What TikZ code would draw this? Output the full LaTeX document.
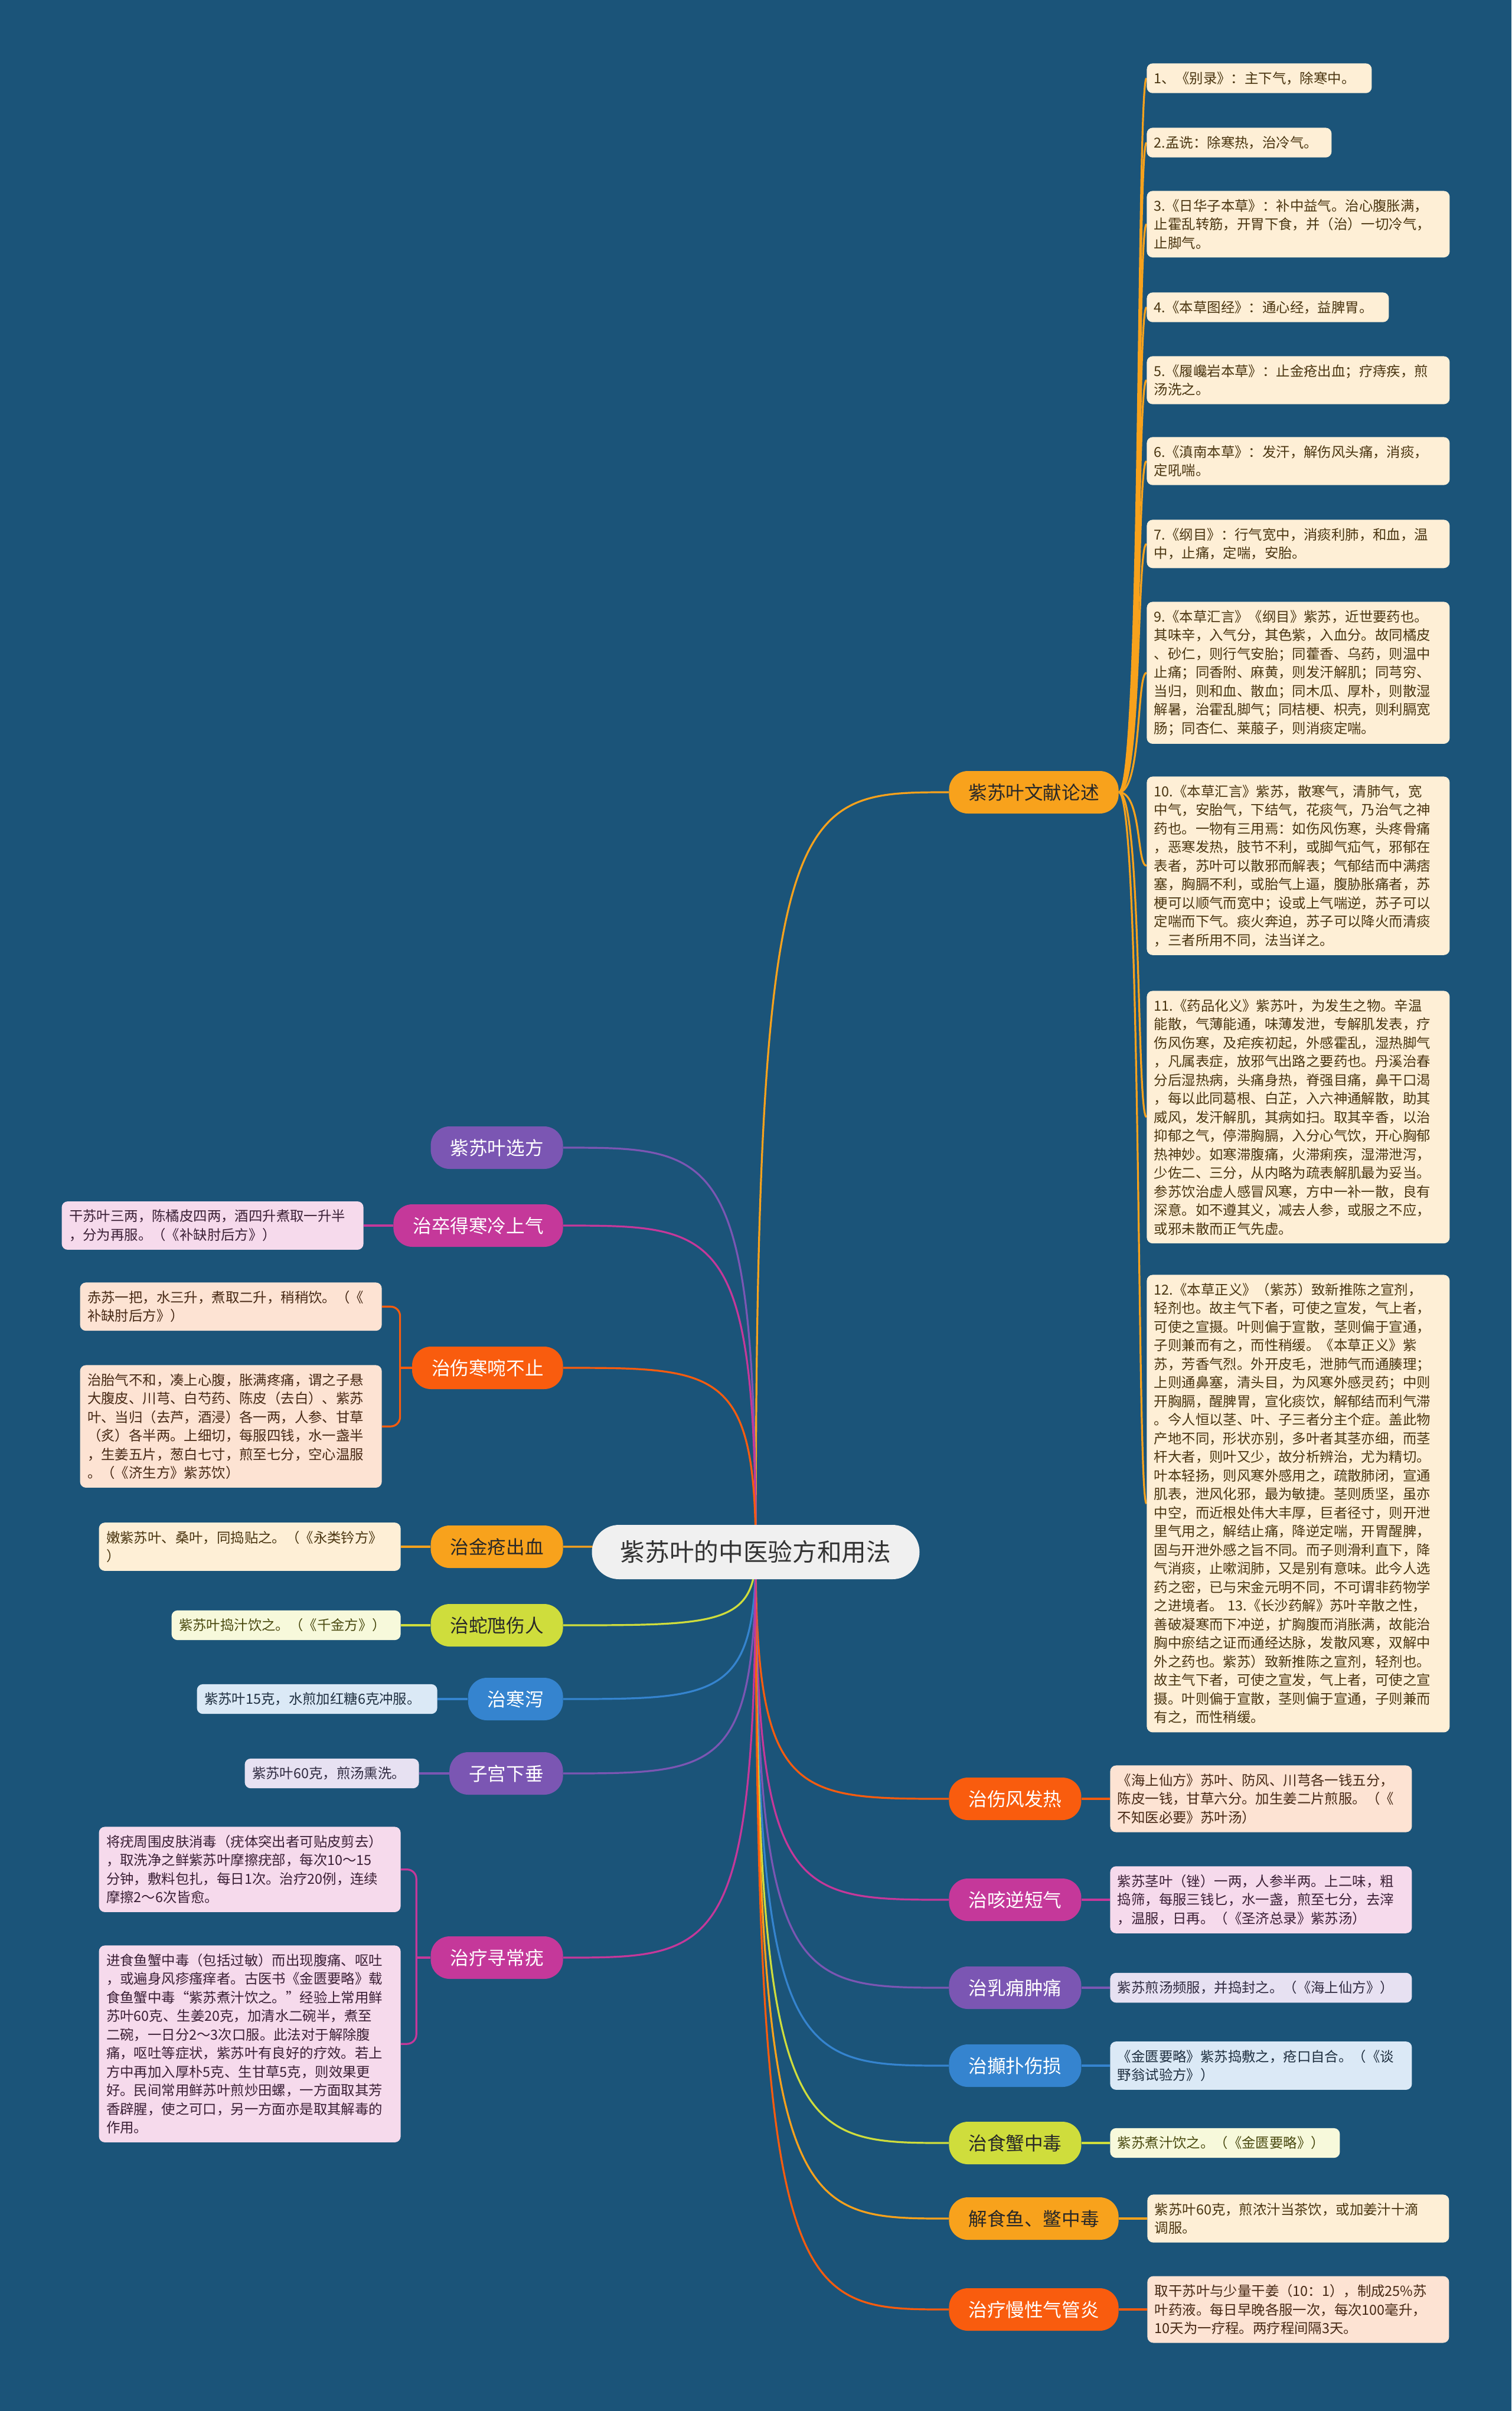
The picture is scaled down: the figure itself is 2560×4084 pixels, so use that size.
\documentclass[tikz,border=0pt]{standalone}
\usepackage{fontspec}
\newfontfamily\cjk{Noto Sans CJK SC}
\usetikzlibrary{calc}
\pgfdeclarelayer{bglayer}
\pgfdeclarelayer{linelayer}
\pgfsetlayers{bglayer,linelayer,main}
\definecolor{bgc}{RGB}{27,84,121}
\definecolor{cOr}{RGB}{248,162,28}
\definecolor{cRe}{RGB}{249,92,14}
\definecolor{cMa}{RGB}{197,56,154}
\definecolor{cPu}{RGB}{123,86,179}
\definecolor{cBl}{RGB}{53,132,207}
\definecolor{cYg}{RGB}{207,221,60}
\definecolor{lOr}{RGB}{254,239,214}
\definecolor{lRe}{RGB}{253,227,211}
\definecolor{lMa}{RGB}{246,218,236}
\definecolor{lPu}{RGB}{231,225,242}
\definecolor{lBl}{RGB}{219,233,246}
\definecolor{lYg}{RGB}{247,249,219}
\definecolor{tOr}{RGB}{74,53,16}
\definecolor{tRe}{RGB}{70,40,20}
\definecolor{tMa}{RGB}{58,31,53}
\definecolor{tPu}{RGB}{47,42,64}
\definecolor{tBl}{RGB}{31,47,64}
\definecolor{tYg}{RGB}{74,74,16}
\definecolor{darkTxt}{RGB}{40,40,40}
\definecolor{cenFill}{RGB}{240,240,240}
\definecolor{cenTxt}{RGB}{51,51,51}
\tikzset{
  mainnode/.style={rounded corners=16pt, minimum height=36pt, inner xsep=16.5pt, inner ysep=0pt,
    font=\cjk\fontsize{15.8pt}{18pt}\selectfont},
  centernode/.style={fill=cenFill, text=cenTxt, rounded corners=23pt, minimum height=46pt,
    minimum width=277.5pt, font=\cjk\fontsize{20.85pt}{24pt}\selectfont},
  leafbox/.style={rounded corners=5pt, inner xsep=6.25pt, inner ysep=7pt, align=left,
    font=\cjk\fontsize{11.7pt}{15.75pt}\selectfont},
  mO/.style={fill=cOr, text=darkTxt},
  mR/.style={fill=cRe, text=white},
  mM/.style={fill=cMa, text=white},
  mP/.style={fill=cPu, text=white},
  mB/.style={fill=cBl, text=white},
  mY/.style={fill=cYg, text=darkTxt},
  fO/.style={fill=lOr, text=tOr},
  fR/.style={fill=lRe, text=tRe},
  fM/.style={fill=lMa, text=tMa},
  fP/.style={fill=lPu, text=tPu},
  fB/.style={fill=lBl, text=tBl},
  fY/.style={fill=lYg, text=tYg},
  lnk/.style={line width=1.6pt},
}
\newcommand{\mmlink}[2]{%
  \path (C.center |- #2) coordinate (tmpk);
  \draw[lnk,#1] (C.center) .. controls (tmpk) and ($(tmpk)!0.2!(#2)$) .. (#2);}
\begin{document}
\begin{tikzpicture}[x=0.5pt,y=-0.5pt]
\begin{pgfonlayer}{bglayer}
\fill[bgc] (0,0) rectangle (2560,4084);
\end{pgfonlayer}
\useasboundingbox (0,0) rectangle (2560,4084);

% ---------- centre ----------
\node[centernode] (C) at (1280,2629) {紫苏叶的中医验方和用法};

% ---------- right main nodes ----------
\node[mainnode,mO,anchor=west] (W) at (1607,1342) {紫苏叶文献论述};
\node[mainnode,mR,anchor=west] (A) at (1607,3047) {治伤风发热};
\node[mainnode,mM,anchor=west] (B) at (1607,3218) {治咳逆短气};
\node[mainnode,mP,anchor=west] (Cc) at (1607,3367) {治乳痈肿痛};
\node[mainnode,mB,anchor=west] (D) at (1607,3499) {治攧扑伤损};
\node[mainnode,mY,anchor=west] (E) at (1607,3630) {治食蟹中毒};
\node[mainnode,mO,anchor=west] (F) at (1607,3758) {解食鱼、鳖中毒};
\node[mainnode,mR,anchor=west] (G) at (1607,3912) {治疗慢性气管炎};

% ---------- left main nodes ----------
\node[mainnode,mP,anchor=east] (L1) at (954,1944) {紫苏叶选方};
\node[mainnode,mM,anchor=east] (L2) at (954,2076) {治卒得寒冷上气};
\node[mainnode,mR,anchor=east] (L3) at (954,2317) {治伤寒啘不止};
\node[mainnode,mO,anchor=east] (L4) at (954,2620) {治金疮出血};
\node[mainnode,mY,anchor=east] (L5) at (954,2753) {治蛇虺伤人};
\node[mainnode,mB,anchor=east] (L6) at (954,2878) {治寒泻};
\node[mainnode,mP,anchor=east] (L7) at (954,3004) {子宫下垂};
\node[mainnode,mM,anchor=east] (L8) at (954,3316) {治疗寻常疣};

% ---------- right top leaves ----------
\node[leafbox,fO,anchor=north west,text width=178pt] (r1) at (1942,107) {1、《别录》：主下气，除寒中。};
\node[leafbox,fO,anchor=north west,text width=144pt] (r2) at (1942,216) {2.孟诜：除寒热，治冷气。};
\node[leafbox,fO,anchor=north west,text width=244pt] (r3) at (1942,323) {3.《日华子本草》：补中益气。治心腹胀满，\\止霍乱转筋，开胃下食，并（治）一切冷气，\\止脚气。};
\node[leafbox,fO,anchor=north west,text width=192.5pt] (r4) at (1942,495) {4.《本草图经》：通心经，益脾胃。};
\node[leafbox,fO,anchor=north west,text width=244pt] (r5) at (1942,603) {5.《履巉岩本草》：止金疮出血；疗痔疾，煎\\汤洗之。};
\node[leafbox,fO,anchor=north west,text width=244pt] (r6) at (1942,740) {6.《滇南本草》：发汗，解伤风头痛，消痰，\\定吼喘。};
\node[leafbox,fO,anchor=north west,text width=244pt] (r7) at (1942,880) {7.《纲目》：行气宽中，消痰利肺，和血，温\\中，止痛，定喘，安胎。};
\node[leafbox,fO,anchor=north west,text width=244pt] (r9) at (1942,1019) {9.《本草汇言》《纲目》紫苏，近世要药也。\\其味辛，入气分，其色紫，入血分。故同橘皮\\、砂仁，则行气安胎；同藿香、乌药，则温中\\止痛；同香附、麻黄，则发汗解肌；同芎穷、\\当归，则和血、散血；同木瓜、厚朴，则散湿\\解暑，治霍乱脚气；同桔梗、枳壳，则利膈宽\\肠；同杏仁、莱菔子，则消痰定喘。};
\node[leafbox,fO,anchor=north west,text width=244pt] (r10) at (1942,1315) {10.《本草汇言》紫苏，散寒气，清肺气，宽\\中气，安胎气，下结气，花痰气，乃治气之神\\药也。一物有三用焉：如伤风伤寒，头疼骨痛\\，恶寒发热，肢节不利，或脚气疝气，邪郁在\\表者，苏叶可以散邪而解表；气郁结而中满痞\\塞，胸膈不利，或胎气上逼，腹胁胀痛者，苏\\梗可以顺气而宽中；设或上气喘逆，苏子可以\\定喘而下气。痰火奔迫，苏子可以降火而清痰\\，三者所用不同，法当详之。};
\node[leafbox,fO,anchor=north west,text width=244pt] (r11) at (1942,1678) {11.《药品化义》紫苏叶，为发生之物。辛温\\能散，气薄能通，味薄发泄，专解肌发表，疗\\伤风伤寒，及疟疾初起，外感霍乱，湿热脚气\\，凡属表症，放邪气出路之要药也。丹溪治春\\分后湿热病，头痛身热，脊强目痛，鼻干口渴\\，每以此同葛根、白芷，入六神通解散，助其\\威风，发汗解肌，其病如扫。取其辛香，以治\\抑郁之气，停滞胸膈，入分心气饮，开心胸郁\\热神妙。如寒滞腹痛，火滞痢疾，湿滞泄泻，\\少佐二、三分，从内略为疏表解肌最为妥当。\\参苏饮治虚人感冒风寒，方中一补一散，良有\\深意。如不遵其义，减去人参，或服之不应，\\或邪未散而正气先虚。};
\node[leafbox,fO,anchor=north west,text width=244pt] (r12) at (1942,2159) {12.《本草正义》（紫苏）致新推陈之宣剂，\\轻剂也。故主气下者，可使之宣发，气上者，\\可使之宣摄。叶则偏于宣散，茎则偏于宣通，\\子则兼而有之，而性稍缓。《本草正义》紫\\苏，芳香气烈。外开皮毛，泄肺气而通腠理；\\上则通鼻塞，清头目，为风寒外感灵药；中则\\开胸膈，醒脾胃，宣化痰饮，解郁结而利气滞\\。今人恒以茎、叶、子三者分主个症。盖此物\\产地不同，形状亦别，多叶者其茎亦细，而茎\\杆大者，则叶又少，故分析辨治，尤为精切。\\叶本轻扬，则风寒外感用之，疏散肺闭，宣通\\肌表，泄风化邪，最为敏捷。茎则质坚，虽亦\\中空，而近根处伟大丰厚，巨者径寸，则开泄\\里气用之，解结止痛，降逆定喘，开胃醒脾，\\固与开泄外感之旨不同。而子则滑利直下，降\\气消痰，止嗽润肺，又是别有意味。此今人选\\药之密，已与宋金元明不同，不可谓非药物学\\之进境者。 13.《长沙药解》苏叶辛散之性，\\善破凝寒而下冲逆，扩胸腹而消胀满，故能治\\胸中瘀结之证而通经达脉，发散风寒，双解中\\外之药也。紫苏）致新推陈之宣剂，轻剂也。\\故主气下者，可使之宣发，气上者，可使之宣\\摄。叶则偏于宣散，茎则偏于宣通，子则兼而\\有之，而性稍缓。};

% ---------- right lower leaves ----------
\node[leafbox,fR,anchor=west,text width=243pt] (Al) at (1880,3047) {《海上仙方》苏叶、防风、川芎各一钱五分，\\陈皮一钱，甘草六分。加生姜二片煎服。（《\\不知医必要》苏叶汤）};
\node[leafbox,fM,anchor=west,text width=243pt] (Bl) at (1880,3218) {紫苏茎叶（锉）一两，人参半两。上二味，粗\\捣筛，每服三钱匕，水一盏，煎至七分，去滓\\，温服，日再。（《圣济总录》紫苏汤）};
\node[leafbox,fP,anchor=west,text width=243pt] (Cl) at (1880,3367) {紫苏煎汤频服，并捣封之。（《海上仙方》）};
\node[leafbox,fB,anchor=west,text width=243pt] (Dl) at (1880,3499) {《金匮要略》紫苏捣敷之，疮口自合。（《谈\\野翁试验方》）};
\node[leafbox,fY,anchor=west,text width=182pt] (El) at (1880,3630) {紫苏煮汁饮之。（《金匮要略》）};
\node[leafbox,fO,anchor=west,text width=243pt] (Fl) at (1943,3758) {紫苏叶60克，煎浓汁当茶饮，或加姜汁十滴\\调服。};
\node[leafbox,fR,anchor=west,text width=243pt] (Gl) at (1943,3912) {取干苏叶与少量干姜（10：1），制成25\%苏\\叶药液。每日早晚各服一次，每次100毫升，\\10天为一疗程。两疗程间隔3天。};

% ---------- left leaves ----------
\node[leafbox,fM,anchor=east,text width=243pt] (L2l) at (616,2076) {干苏叶三两，陈橘皮四两，酒四升煮取一升半\\，分为再服。（《补缺肘后方》）};
\node[leafbox,fR,anchor=north east,text width=243pt] (L3a) at (647,2172) {赤苏一把，水三升，煮取二升，稍稍饮。（《\\补缺肘后方》）};
\node[leafbox,fR,anchor=north east,text width=243pt] (L3b) at (647,2312) {治胎气不和，凑上心腹，胀满疼痛，谓之子悬\\大腹皮、川芎、白芍药、陈皮（去白）、紫苏\\叶、当归（去芦，酒浸）各一两，人参、甘草\\（炙）各半两。上细切，每服四钱，水一盏半\\，生姜五片，葱白七寸，煎至七分，空心温服\\。（《济生方》紫苏饮）};
\node[leafbox,fO,anchor=east,text width=243pt] (L4l) at (679,2620) {嫩紫苏叶、桑叶，同捣贴之。（《永类钤方》\\）};
\node[leafbox,fY,anchor=east,text width=181.5pt] (L5l) at (679,2753) {紫苏叶捣汁饮之。（《千金方》）};
\node[leafbox,fB,anchor=east,text width=191pt] (L6l) at (741,2878) {紫苏叶15克，水煎加红糖6克冲服。};
\node[leafbox,fP,anchor=east,text width=135pt] (L7l) at (710,3004) {紫苏叶60克，煎汤熏洗。};
\node[leafbox,fM,anchor=north east,text width=243pt] (L8a) at (679,3094) {将疣周围皮肤消毒（疣体突出者可贴皮剪去）\\，取洗净之鲜紫苏叶摩擦疣部，每次10～15\\分钟，敷料包扎，每日1次。治疗20例，连续\\摩擦2～6次皆愈。};
\node[leafbox,fM,anchor=north east,text width=243pt] (L8b) at (679,3295) {进食鱼蟹中毒（包括过敏）而出现腹痛、呕吐\\，或遍身风疹瘙痒者。古医书《金匮要略》载\\食鱼蟹中毒“紫苏煮汁饮之。”经验上常用鲜\\苏叶60克、生姜20克，加清水二碗半，煮至\\二碗，一日分2～3次口服。此法对于解除腹\\痛，呕吐等症状，紫苏叶有良好的疗效。若上\\方中再加入厚朴5克、生甘草5克，则效果更\\好。民间常用鲜苏叶煎炒田螺，一方面取其芳\\香辟腥，使之可口，另一方面亦是取其解毒的\\作用。};

% ---------- connectors ----------
\begin{pgfonlayer}{linelayer}
\mmlink{cOr}{W.west}
\mmlink{cRe}{A.west}
\mmlink{cMa}{B.west}
\mmlink{cPu}{Cc.west}
\mmlink{cBl}{D.west}
\mmlink{cYg}{E.west}
\mmlink{cOr}{F.west}
\mmlink{cRe}{G.west}
\mmlink{cPu}{L1.east}
\mmlink{cMa}{L2.east}
\mmlink{cRe}{L3.east}
\mmlink{cOr}{L4.east}
\mmlink{cYg}{L5.east}
\mmlink{cBl}{L6.east}
\mmlink{cPu}{L7.east}
\mmlink{cMa}{L8.east}

\foreach \r in {r1,r2,r3,r4,r5,r6,r7,r9,r10,r11,r12}{
  \draw[lnk,cOr] (W.east) .. controls ($(W.east)+(39,0)$) and ($(\r.west)+(-17,0)$) .. (\r.west);
}
\draw[lnk,cRe] (A.east) -- (Al.west);
\draw[lnk,cMa] (B.east) -- (Bl.west);
\draw[lnk,cPu] (Cc.east) -- (Cl.west);
\draw[lnk,cBl] (D.east) -- (Dl.west);
\draw[lnk,cYg] (E.east) -- (El.west);
\draw[lnk,cOr] (F.east) -- (Fl.west);
\draw[lnk,cRe] (G.east) -- (Gl.west);

\draw[lnk,cMa] (L2.west) -- (L2l.east);
\draw[lnk,cOr] (L4.west) -- (L4l.east);
\draw[lnk,cYg] (L5.west) -- (L5l.east);
\draw[lnk,cBl] (L6.west) -- (L6l.east);
\draw[lnk,cPu] (L7.west) -- (L7l.east);

\coordinate (L3j) at ($(L3.west)+(-20,0)$);
\draw[lnk,cRe] (L3.west) -- (L3j);
\draw[lnk,cRe,rounded corners=8pt] (L3j) |- (L3a.east);
\draw[lnk,cRe,rounded corners=8pt] (L3j) |- (L3b.east);

\coordinate (L8j) at ($(L8.west)+(-24,0)$);
\draw[lnk,cMa] (L8.west) -- (L8j);
\draw[lnk,cMa,rounded corners=8pt] (L8j) |- (L8a.east);
\draw[lnk,cMa,rounded corners=8pt] (L8j) |- (L8b.east);
\end{pgfonlayer}
\end{tikzpicture}
\end{document}
